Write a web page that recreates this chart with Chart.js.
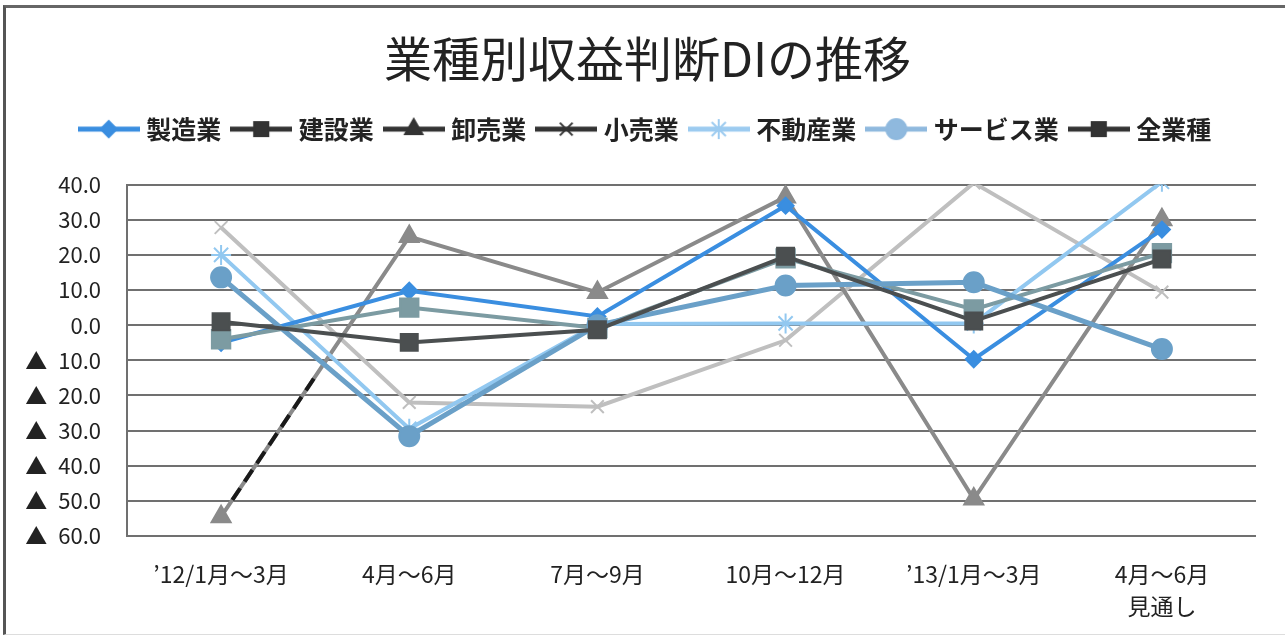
<!DOCTYPE html>
<html>
<head>
<meta charset="utf-8">
<script src="https://cdn.jsdelivr.net/npm/chart.js@4"></script>
<style>
  html, body { margin: 0; padding: 0; background: #fff; }
  #wrap { position: relative; width: 1285px; height: 636px; overflow: hidden; }
  #frame { position: absolute; left: 3px; top: 5px; width: 1300px; height: 626px;
           border-left: 3px solid #555; border-top: 3px solid #666; border-bottom: 1px solid #ddd;
           pointer-events: none; }
</style>
</head>
<body>
<div id="wrap">
  <canvas id="myChart" width="1285" height="636"></canvas>
  <div id="frame"></div>
</div>
<script>
"use strict";

//Quarters on the x axis.
var categories = ["’12/1月～3月", "4月～6月", "7月～9月", "10月～12月", "’13/1月～3月", ["4月～6月", "見通し"]];

//Series names, in legend order.
var seriesNames = ["製造業", "建設業", "卸売業", "小売業", "不動産業", "サービス業", "全業種"];

//DI values (negative = ▲).
var seizo    = [-5.0, 9.8, 2.5, 34.0, -9.7, 27.2];
var kensetsu = [-4.0, 5.0, -0.8, 19.0, 4.5, 20.5];
var oroshi   = [-54.5, 25.2, 9.3, 36.5, -49.5, 30.0];
var kouri    = [27.8, -22.0, -23.2, -4.3, 40.5, 9.4];
var fudosan  = [20.0, -29.5, 0.3, 0.5, 0.5, 40.8];
var service  = [13.6, -31.6, 0.0, 11.3, 12.2, -6.8];
var zengyo   = [1.0, -4.9, -1.3, 19.6, 1.2, 18.8];

//Y axis range and step.
var yMin = -60;
var yMax = 40;
var yStep = 10;

var seriesValues = [seizo, kensetsu, oroshi, kouri, fudosan, service, zengyo];

//Line colours, marker shapes and sizes for each series.
var lineColors = ["#3a8ee0", "#7c9ba2", "#8a8a8a", "#bfbfbf", "#92c8f0", "#6aa0c8", "#4b4f50"];
var legendColors = ["#3a8ee0", "#333333", "#333333", "#333333", "#9ccbf0", "#8fb9de", "#333333"];
var markers = ["rectRot", "rect", "triangle", "crossRot", "star", "circle", "rect"];
var markerSizes = [8, 13, 11, 9, 10, 10, 12];
var lineWidths = [4, 4, 4, 4, 4, 5, 4];
var drawOrder = [3, 2.5, 5, 7, 4, 2, 1];

//Small canvas icons for the legend: a line with the marker on it.
function makeIcon(color, style, size) {
    var c = document.createElement('canvas');
    c.width = 62;
    c.height = 26;
    var g = c.getContext('2d');
    g.strokeStyle = color;
    g.fillStyle = color;
    g.lineWidth = 5;
    g.beginPath();
    g.moveTo(0, 13);
    g.lineTo(62, 13);
    g.stroke();
    g.lineWidth = 2;
    Chart.helpers.drawPoint(g, { pointStyle: style, radius: Math.min(size, 10), rotation: 0, borderWidth: 2 }, 31, 13);
    return c;
}

var icons = [];
for (var i = 0; i < seriesNames.length; i++) {
    icons.push(makeIcon(legendColors[i], markers[i], markerSizes[i]));
}

var datasets = [];
for (var j = 0; j < seriesNames.length; j++) {
    datasets.push({
        label: seriesNames[j],
        data: seriesValues[j],
        borderColor: lineColors[j],
        backgroundColor: lineColors[j],
        pointBackgroundColor: lineColors[j],
        pointBorderColor: lineColors[j],
        pointStyle: markers[j],
        pointRadius: markerSizes[j],
        pointBorderWidth: 2,
        borderWidth: lineWidths[j],
        tension: 0,
        order: drawOrder[j]
    });
}

//Layout tweaks, plus the black dashed stroke the scan has over the first 卸売業 segment.
var tweakPlugin = {
    id: 'tweaks',
    afterInit: function (chart) {
        //leave a gap under the legend like the original
        var legend = chart.legend;
        var fit = legend.fit;
        legend.fit = function () {
            fit.call(this);
            this.height += 33;
        };
    },
    afterLayout: function (chart) {
        //title and legend sit a little right of the canvas centre
        chart.titleBlock.left += 17;
        chart.titleBlock.right += 17;
        chart.legend.left += 17;
        chart.legend.right += 17;
    },
    afterDatasetsDraw: function (chart) {
        var meta = chart.getDatasetMeta(2);
        var p0 = meta.data[0];
        var p1 = meta.data[1];
        var ctx = chart.ctx;
        var a = 0.06, b = 0.5;
        ctx.save();
        ctx.strokeStyle = "#1a1a1a";
        ctx.lineWidth = 4;
        ctx.setLineDash([14, 8]);
        ctx.beginPath();
        ctx.moveTo(p0.x + (p1.x - p0.x) * a, p0.y + (p1.y - p0.y) * a);
        ctx.lineTo(p0.x + (p1.x - p0.x) * b, p0.y + (p1.y - p0.y) * b);
        ctx.stroke();
        ctx.restore();
    }
};

var ctx = document.getElementById('myChart').getContext('2d');
var myChart = new Chart(ctx, {
    type: 'line',
    data: {
        labels: categories,
        datasets: datasets
    },
    plugins: [tweakPlugin],
    options: {
        responsive: false,
        animation: false,
        layout: { padding: { left: 5, right: 29, top: 0, bottom: 5 } },
        plugins: {
            title: {
                display: true,
                text: "業種別収益判断DIの推移",
                color: "#222",
                font: { family: "'Noto Sans CJK JP'", size: 48, weight: 'normal' },
                padding: { top: 30, bottom: 14 }
            },
            legend: {
                display: true,
                position: 'top',
                labels: {
                    usePointStyle: true,
                    pointStyleWidth: 50,
                    padding: 15,
                    color: "#222",
                    font: { family: "'Noto Sans CJK JP'", size: 25, weight: 'bold' },
                    generateLabels: function (chart) {
                        var items = Chart.defaults.plugins.legend.labels.generateLabels(chart);
                        items.forEach(function (it) {
                            it.pointStyle = icons[it.datasetIndex];
                        });
                        items.sort(function (p, q) { return p.datasetIndex - q.datasetIndex; });
                        return items;
                    }
                }
            },
            tooltip: { enabled: false }
        },
        scales: {
            x: {
                offset: true,
                grid: { display: false, drawTicks: false },
                border: { display: false },
                ticks: {
                    color: "#222",
                    maxRotation: 0,
                    padding: 22,
                    font: { family: "'Noto Sans CJK JP'", size: 23, lineHeight: 1.4 }
                },
                afterFit: function (s) { s.height = 95; }
            },
            y: {
                min: yMin,
                max: yMax,
                grid: { color: "#707070", lineWidth: 2, drawTicks: false },
                border: { display: true, color: "#707070", width: 2 },
                ticks: {
                    stepSize: yStep,
                    color: "#222",
                    padding: 26,
                    font: { family: "'Noto Sans CJK JP'", size: 22 },
                    callback: function (v) {
                        if (v < 0) {
                            return "▲\u2002" + Math.abs(v).toFixed(1);
                        }
                        return v.toFixed(1);
                    }
                },
                afterFit: function (s) { s.width = 122; }
            }
        }
    }
});
</script>
</body>
</html>
